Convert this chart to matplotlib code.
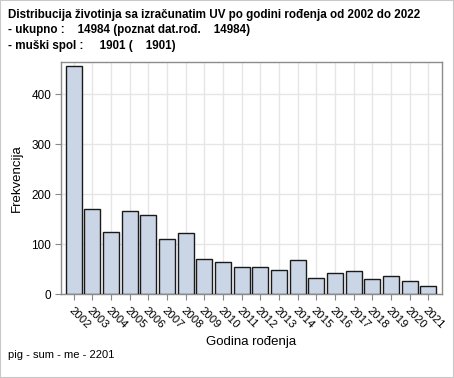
import matplotlib
matplotlib.use("Agg")
import matplotlib.pyplot as plt
from matplotlib.patches import Rectangle

plt.rcParams['font.family'] = ['Liberation Sans', 'DejaVu Sans']

years = [str(y) for y in range(2002, 2022)]
counts = [457, 171, 124, 167, 158, 110, 122, 70, 65, 55, 55, 48, 68, 33, 43, 47, 30, 36, 26, 16]
yticks = [0, 100, 200, 300, 400]
title_lines = ["Distribucija životinja sa izračunatim UV po godini rođenja od 2002 do 2022",
               "- ukupno :    14984 (poznat dat.rođ.    14984)",
               "- muški spol :     1901 (    1901)"]
footnote = "pig - sum - me - 2201"

W, H = 454, 378
fig = plt.figure(figsize=(W / 100, H / 100), dpi=100)
fig.patch.set_facecolor('white')
fig.patches.append(Rectangle((0, 0), 1, 1, transform=fig.transFigure, fill=False,
                             edgecolor='#c8c8c8', linewidth=1.5))

ax = fig.add_axes([61 / W, 1 - 294.3 / H, (442 - 61) / W, (294.3 - 62) / H])
x = list(range(len(years)))
ax.bar(x, counts, width=0.86, color='#cad5e5', edgecolor='#1a1a1a', linewidth=1.0, zorder=3)
ax.set_xlim(-0.68, 19.73)
ax.set_ylim(0, 464.6)
ax.set_yticks(yticks)
ax.set_xticks(x)
ax.set_xticklabels(years, rotation=-45, ha='left', va='top', rotation_mode='anchor', fontsize=8.2)
ax.tick_params(axis='y', labelsize=8.5, length=4, color='#888888', pad=3)
ax.tick_params(axis='x', length=4, color='#888888', pad=4)
ax.grid(True, color='#e6e6e6', linewidth=1.0, zorder=0)
ax.set_axisbelow(True)
for s in ax.spines.values():
    s.set_color('#8c8c8c')
    s.set_linewidth(1.0)
ax.set_ylabel('Frekvencija', fontsize=9.5, labelpad=6)
ax.set_xlabel('Godina rođenja', fontsize=9.5, labelpad=4)

for i, line in enumerate(title_lines):
    fig.text(8 / W, 1 - (15 + 15.5 * i) / H, line, fontsize=8.4, fontweight='bold',
             ha='left', va='center')
fig.text(8 / W, 1 - 355 / H, footnote, fontsize=8, ha='left', va='center')

fig.savefig('out.png', dpi=100)
